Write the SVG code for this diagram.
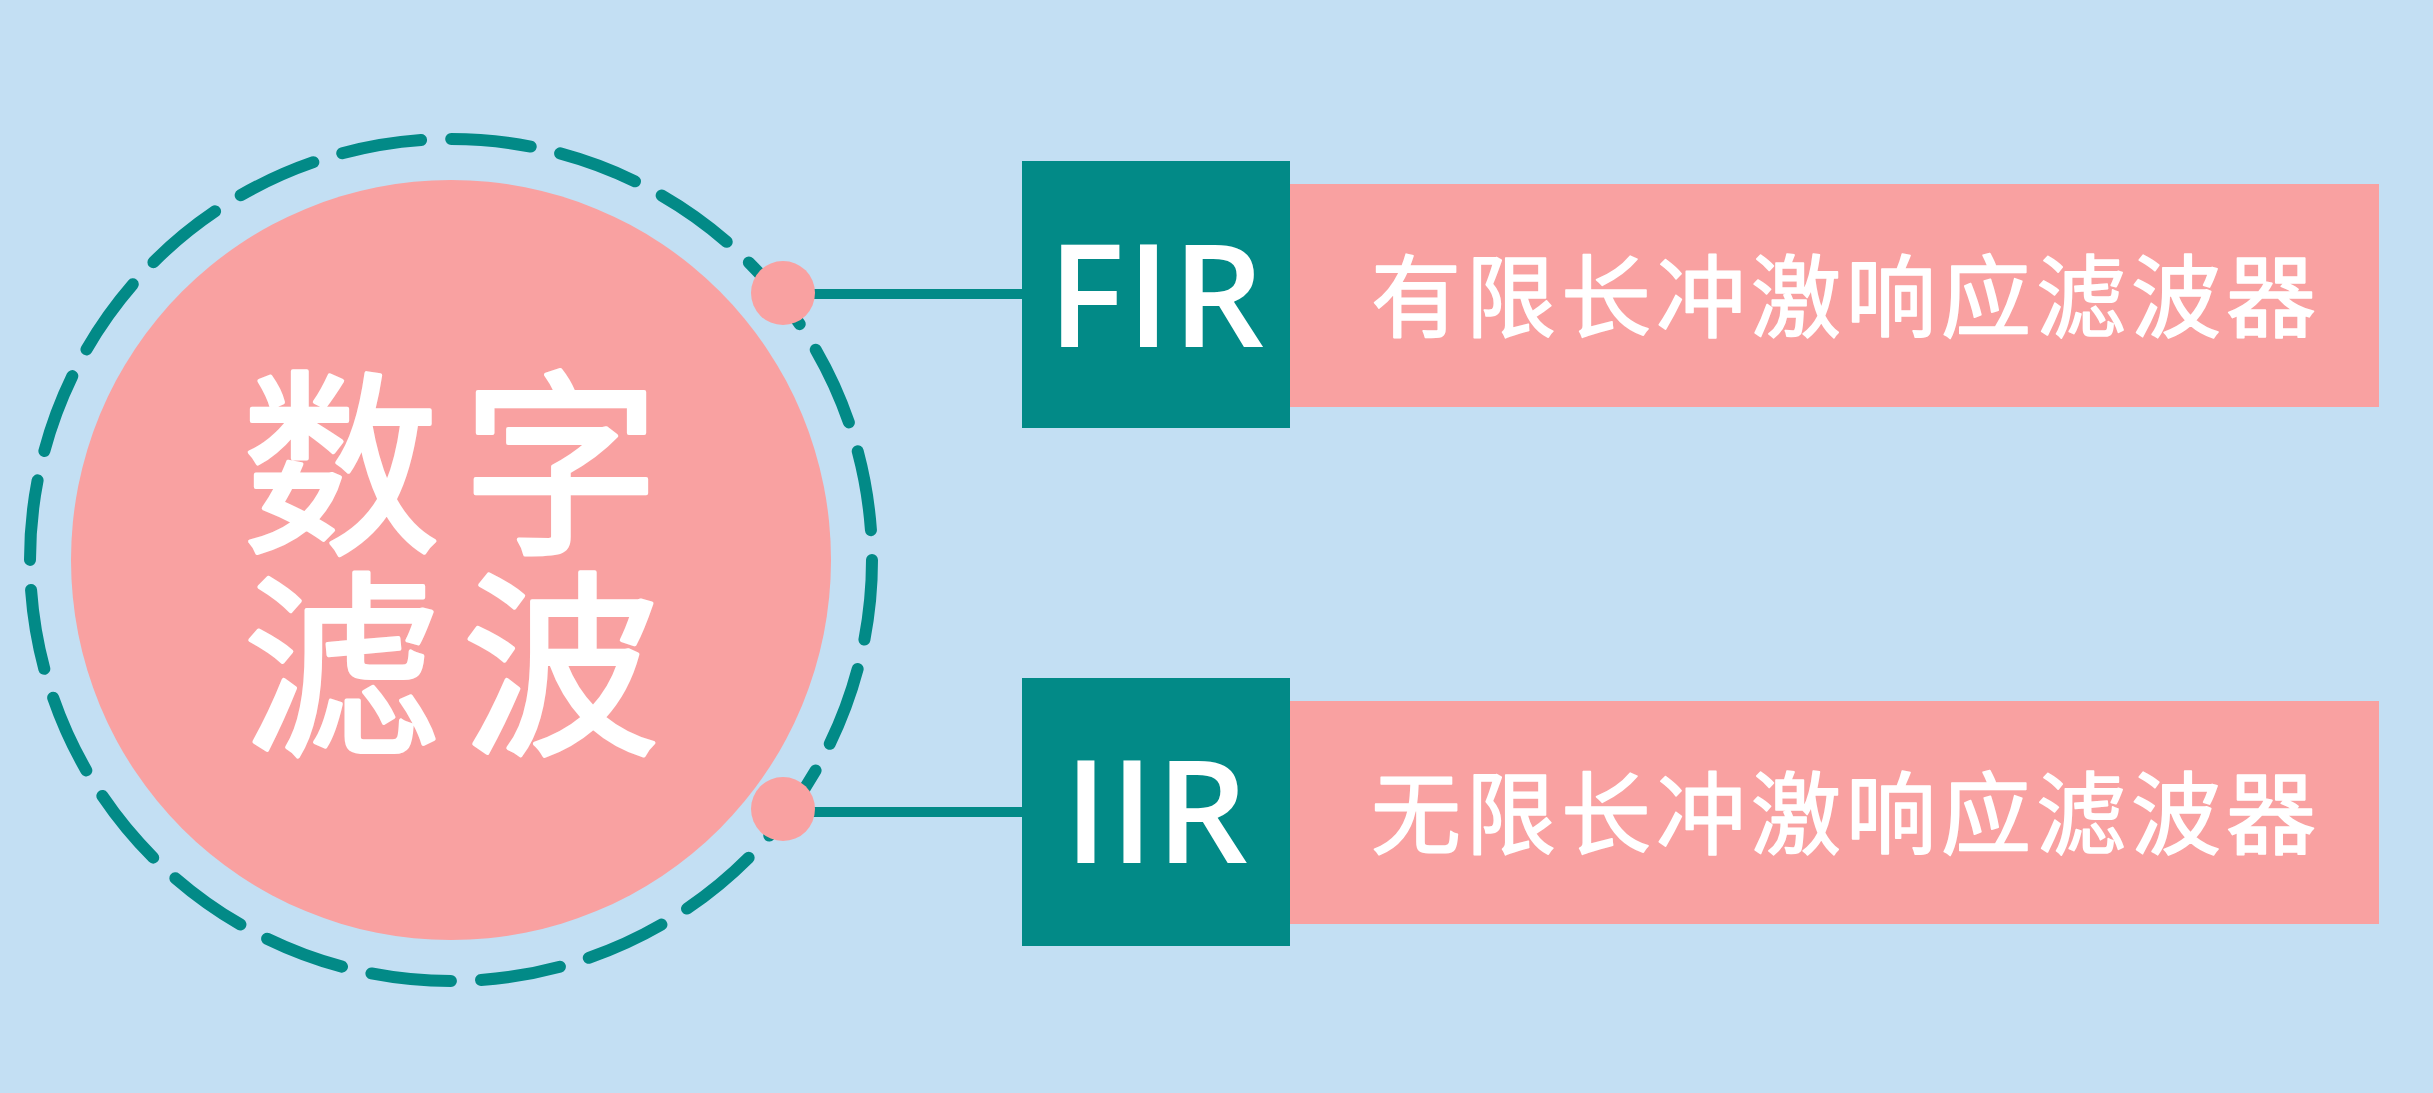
<svg xmlns="http://www.w3.org/2000/svg" width="2433" height="1093" viewBox="0 0 2433 1093">
<style>
.pink{fill:#F9A1A1}
.teal{fill:#028A87}
.conn{stroke:#028A87;stroke-width:10;fill:none}
.big{font-family:"Noto Sans CJK SC",sans-serif;font-size:198px;font-weight:400;fill:#FFFFFF;stroke:#FFFFFF;stroke-width:4px;stroke-linejoin:round;letter-spacing:22px}
.lat{font-family:"Open Sans","Noto Sans",sans-serif;font-size:144px;font-weight:600;fill:#FFFFFF;letter-spacing:2px}
.cn{font-family:"Noto Sans CJK SC",sans-serif;font-size:90px;font-weight:400;fill:#FFFFFF;stroke:#FFFFFF;stroke-width:1.6px;stroke-linejoin:round;letter-spacing:5px}
</style>
<rect width="2433" height="1093" fill="#C3DFF3"/>
<g id="center">
<circle cx="451" cy="560" r="380" class="pink"/>
<circle cx="451" cy="560" r="421" fill="none" stroke="#028A87" stroke-width="12" stroke-linecap="round" stroke-dasharray="80 30.2"/>
<text class="big" text-anchor="middle"><tspan x="462" y="538">数字</tspan><tspan x="462" y="739">滤波</tspan></text>
</g>
<g id="connectors">
<line x1="783" y1="294" x2="1022" y2="294" class="conn"/>
<line x1="783" y1="812" x2="1022" y2="812" class="conn"/>
<circle cx="783" cy="293" r="32" class="pink"/>
<circle cx="783" cy="809" r="32" class="pink"/>
</g>
<g id="fir">
<rect x="1289" y="184" width="1090" height="223" class="pink"/>
<rect x="1022" y="161" width="268" height="267" class="teal"/>
<text class="lat" x="1157" y="347" text-anchor="middle">FIR</text>
<text class="cn" x="1846" y="330" text-anchor="middle">有限长冲激响应滤波器</text>
</g>
<g id="iir">
<rect x="1289" y="701" width="1090" height="223" class="pink"/>
<rect x="1022" y="678" width="268" height="268" class="teal"/>
<text class="lat" x="1157" y="863" text-anchor="middle">IIR</text>
<text class="cn" x="1846" y="847" text-anchor="middle">无限长冲激响应滤波器</text>
</g>
</svg>
